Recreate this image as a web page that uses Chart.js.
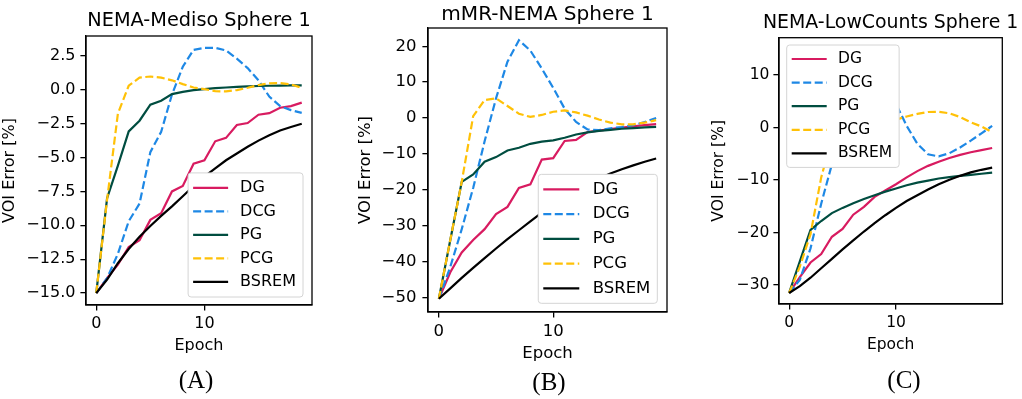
<!DOCTYPE html>
<html>
<head>
<meta charset="utf-8">
<script src="https://cdn.jsdelivr.net/npm/chart.js@4.4.1/dist/chart.umd.min.js"></script>
<style>
    body { margin: 0; background: #fff; }
    #wrap { position: relative; width: 1022px; height: 399px; overflow: hidden; }
    #wrap canvas { position: absolute; top: 0; }
    .tag {
        position: absolute;
        font-family: "Liberation Serif", serif;
        font-size: 25px;
        color: #000;
        transform: translate(-50%, -50%);
    }
</style>
</head>
<body>
<div id="wrap">
    <canvas id="chartA" width="340" height="370" style="left:0px"></canvas>
    <canvas id="chartB" width="340" height="370" style="left:340px"></canvas>
    <canvas id="chartC" width="342" height="370" style="left:680px"></canvas>
    <div class="tag" style="left:196px; top:380px">(A)</div>
    <div class="tag" style="left:549px; top:382px">(B)</div>
    <div class="tag" style="left:904px; top:380px">(C)</div>
</div>

<script>
// Data
const epochs = [0, 1, 2, 3, 4, 5, 6, 7, 8, 9, 10, 11, 12, 13, 14, 15, 16, 17, 18, 19];

const seriesNames = ["DG", "DCG", "PG", "PCG", "BSREM"];
const seriesColors = ["#D81B60", "#1E88E5", "#004D40", "#FFC107", "#000000"];
const seriesDashed = [false, true, false, true, false];

const titles = ["NEMA-Mediso Sphere 1", "mMR-NEMA Sphere 1", "NEMA-LowCounts Sphere 1"];

// (A) NEMA-Mediso
const dgA = [-15, -13.9, -12.9, -11.6, -11.1, -9.6, -9.1, -7.5, -7.1, -5.45, -5.2, -3.8, -3.55, -2.6, -2.45, -1.84, -1.72, -1.32, -1.2, -0.95];
const dcgA = [-15, -13.9, -12.1, -9.7, -8.4, -4.6, -3.1, -0.35, 1.7, 2.95, 3.1, 3.1, 2.9, 2.3, 1.6, 0.7, -0.5, -1.2, -1.5, -1.7];
const pgA = [-15, -8.0, -5.6, -3.07, -2.28, -1.1, -0.81, -0.32, -0.15, -0.02, 0.05, 0.12, 0.17, 0.21, 0.25, 0.28, 0.3, 0.31, 0.32, 0.33];
const pcgA = [-15, -8.1, -1.75, 0.3, 0.9, 0.98, 0.9, 0.7, 0.42, 0.17, 0.05, -0.1, -0.12, -0.02, 0.15, 0.35, 0.48, 0.5, 0.4, 0.15];
const bsremA = [-15, -14.0, -12.8, -11.75, -10.85, -10.05, -9.3, -8.6, -7.85, -7.1, -6.4, -5.8, -5.2, -4.7, -4.2, -3.75, -3.35, -3.0, -2.75, -2.5];

// (B) mMR-NEMA
const dgB = [-50.4, -43, -37.5, -34, -31, -26.8, -24.8, -19.5, -18.5, -11.6, -11.2, -6.4, -6.1, -3.9, -3.5, -3.1, -2.7, -2.3, -2.0, -1.7];
const dcgB = [-50.4, -41.5, -31, -19.5, -6.5, 5.5, 15.7, 21.7, 18.8, 13.8, 8.4, 2.6, -1.1, -3.2, -3.4, -2.9, -2.5, -2.0, -1.1, 0.0];
const pgB = [-50.4, -34, -17.8, -15.75, -12.2, -10.9, -9.05, -8.3, -7.2, -6.6, -6.25, -5.5, -4.6, -4.0, -3.6, -3.3, -3.0, -2.8, -2.6, -2.45];
const pcgB = [-50.4, -34, -17.8, 0.5, 5.0, 5.5, 3.35, 1.2, 0.3, 0.85, 1.75, 2.1, 1.55, 0.65, -0.4, -1.3, -1.75, -1.75, -1.3, -0.6];
const bsremB = [-50.4, -47.5, -44.6, -41.8, -39.1, -36.4, -33.8, -31.3, -28.8, -26.4, -24.2, -22.1, -20.2, -18.5, -16.9, -15.5, -14.3, -13.2, -12.2, -11.3];

// (C) NEMA-LowCounts
const dgC = [-31.5, -28.5, -25.7, -24.1, -20.8, -19.3, -16.6, -15.1, -13.2, -12.0, -10.8, -9.5, -8.3, -7.3, -6.5, -5.8, -5.2, -4.7, -4.3, -3.9];
const dcgC = [-31.5, -29, -23, -14.5, -7, 5, 12, 14.6, 13.2, 9.2, 4.5, 0.3, -3.1, -5.1, -5.5, -4.9, -3.8, -2.5, -1.1, 0.3];
const pgC = [-31.5, -25.5, -19.5, -17.8, -16.3, -15.3, -14.4, -13.6, -12.9, -12.2, -11.6, -11.0, -10.5, -10.1, -9.7, -9.45, -9.2, -9.0, -8.8, -8.6];
const pcgC = [-31.5, -26.5, -20.3, -9.5, -2, 2.5, 3.5, 3.0, 2.3, 1.7, 1.5, 2.1, 2.6, 2.95, 3.0, 2.7, 2.0, 1.0, 0.2, -0.9];
const bsremC = [-31.5, -30.2, -28.6, -26.8, -25.0, -23.2, -21.5, -19.8, -18.2, -16.7, -15.3, -14.0, -12.9, -11.8, -10.8, -9.95, -9.2, -8.55, -8.05, -7.65];

const FONT = "DejaVu Sans";

// Frame round the plot area (top and right spines too)
const framePlugin = {
    id: "frame",
    afterDatasetsDraw(chart) {
        const { ctx, chartArea: a } = chart;
        ctx.save();
        ctx.strokeStyle = "#000";
        ctx.lineWidth = 1.3;
        ctx.strokeRect(a.left, a.top, a.right - a.left, a.bottom - a.top);
        ctx.restore();
    }
};

// Title centred over the plot area, allowed to run past it
const panelTitle = {
    id: "panelTitle",
    afterDraw(chart, args, opts) {
        const { ctx, chartArea: a } = chart;
        ctx.save();
        ctx.font = `${opts.size}px "${FONT}"`;
        ctx.fillStyle = "#000";
        ctx.textAlign = "center";
        ctx.textBaseline = "middle";
        ctx.fillText(opts.text, (a.left + a.right) / 2, opts.y);
        ctx.restore();
    }
};

// Legend box drawn inside the plot area, like matplotlib
const boxLegend = {
    id: "boxLegend",
    afterDatasetsDraw(chart, args, opts) {
        const { ctx, chartArea: a } = chart;
        const sets = chart.data.datasets;
        ctx.save();
        ctx.font = `${opts.size}px "${FONT}"`;
        const textW = Math.max(...sets.map(d => ctx.measureText(d.label).width));
        const w = opts.textX + textW + 7;
        const h = sets.length * opts.rowH + 2 * opts.pad;
        const x = opts.corner === "ul" ? a.left + opts.gapX : a.right - opts.gapX - w;
        const y = opts.corner === "ul" ? a.top + opts.gapY : a.bottom - opts.gapY - h;

        ctx.beginPath();
        ctx.roundRect(x, y, w, h, 3);
        ctx.fillStyle = "#fff";
        ctx.fill();
        ctx.strokeStyle = "#d4d4d4";
        ctx.lineWidth = 1;
        ctx.stroke();

        sets.forEach((d, i) => {
            const cy = y + opts.pad + opts.rowH * (i + 0.5);
            ctx.beginPath();
            ctx.setLineDash(d.borderDash || []);
            ctx.strokeStyle = d.borderColor;
            ctx.lineWidth = d.borderWidth;
            ctx.moveTo(x + 5, cy);
            ctx.lineTo(x + 5 + opts.handle, cy);
            ctx.stroke();
            ctx.setLineDash([]);
            ctx.fillStyle = "#000";
            ctx.textBaseline = "middle";
            ctx.fillText(d.label, x + opts.textX, cy);
        });
        ctx.restore();
    }
};

const fmt = (v, dec) => {
    if (Math.abs(v) < 1e-9) v = 0;
    return v.toFixed(dec).replace("-", "\u2212");
};

const makeSeries = (values, i) => ({
    label: seriesNames[i],
    data: epochs.map((e, k) => ({ x: e, y: values[k] })),
    borderColor: seriesColors[i],
    borderWidth: 2.2,
    borderDash: seriesDashed[i] ? [8, 3.5] : [],
    pointRadius: 0,
    tension: 0,
    fill: false,
    order: 5 - i
});

// Layout of the three panels
const panels = [
    {
        id: "chartA", title: titles[0], values: [dgA, dcgA, pgA, pcgA, bsremA],
        yMin: -15.88, yMax: 3.97, step: 2.5, dec: 1,
        fs: 16, tfs: 19.3, titleY: 21, padT: 36,
        padL: 0.4, padR: 28, yW: 85.6, xH: 65, xPad: 3.4, yPad: 5, epochPad: 14.4,
        legend: { corner: "lr", gapX: 9, gapY: 8, size: 16, rowH: 23.5, pad: 3.3, handle: 35, textX: 52 }
    },
    {
        id: "chartB", title: titles[1], values: [dgB, dcgB, pgB, pcgB, bsremB],
        yMin: -54.1, yMax: 25.1, step: 10, dec: 0,
        fs: 16.5, tfs: 20.1, titleY: 14.3, padT: 28,
        padL: 15.9, padR: 13, yW: 72.1, xH: 58, xPad: 4.7, yPad: 6, epochPad: 6.6,
        legend: { corner: "lr", gapX: 9.7, gapY: 8.7, size: 16.5, rowH: 24.75, pad: 2.6, handle: 36, textX: 54.4 }
    },
    {
        id: "chartC", title: titles[2], values: [dgC, dcgC, pgC, pcgC, bsremC],
        yMin: -33.6, yMax: 17.1, step: 10, dec: 0,
        fs: 15.5, tfs: 18.9, titleY: 22.7, padT: 37.7,
        padL: 29.4, padR: 19.7, yW: 69.6, xH: 66, xPad: 4.4, yPad: 4, epochPad: 15.7,
        legend: { corner: "ul", gapX: 7.7, gapY: 7.3, size: 15.5, rowH: 23.6, pad: 2.2, handle: 35, textX: 51.3 }
    }
];

const axisGrid = {
    drawOnChartArea: false,
    drawTicks: true,
    tickLength: 5.6,
    color: "#000",
    lineWidth: 1.3
};

const axisBorder = { display: true, color: "#000", width: 1.3 };

const drawPanel = (p) => {

    const font = { family: FONT, size: p.fs };

    new Chart(document.getElementById(p.id), {
        type: "line",
        data: { datasets: p.values.map(makeSeries) },
        options: {
            responsive: false,
            animation: false,
            events: [],
            layout: { padding: { left: p.padL, right: p.padR, top: p.padT, bottom: 0 } },
            plugins: {
                legend: { display: false },
                tooltip: { enabled: false },
                title: { display: false },
                panelTitle: { text: p.title, size: p.tfs, y: p.titleY },
                boxLegend: p.legend
            },
            scales: {
                x: {
                    type: "linear",
                    min: -0.95,
                    max: 19.95,
                    afterFit: s => { s.height = p.xH; },
                    ticks: {
                        stepSize: 10,
                        includeBounds: false,
                        maxRotation: 0,
                        color: "#000",
                        font: font,
                        padding: p.xPad,
                        callback: v => fmt(v, 0)
                    },
                    grid: axisGrid,
                    border: axisBorder,
                    title: {
                        display: true,
                        text: "Epoch",
                        color: "#000",
                        font: font,
                        padding: { top: 0, bottom: p.epochPad }
                    }
                },
                y: {
                    type: "linear",
                    min: p.yMin,
                    max: p.yMax,
                    afterFit: s => { s.width = p.yW; },
                    ticks: {
                        stepSize: p.step,
                        includeBounds: false,
                        color: "#000",
                        font: font,
                        padding: p.yPad,
                        callback: v => fmt(v, p.dec)
                    },
                    grid: axisGrid,
                    border: axisBorder,
                    title: {
                        display: true,
                        text: "VOI Error [%]",
                        color: "#000",
                        font: font,
                        padding: 0
                    }
                }
            }
        },
        plugins: [framePlugin, boxLegend, panelTitle]
    });
};

panels.forEach(drawPanel);
</script>
</body>
</html>
